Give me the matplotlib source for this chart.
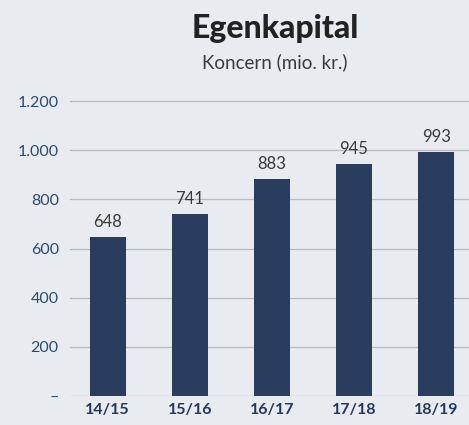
import matplotlib.pyplot as plt

years = ["14/15", "15/16", "16/17", "17/18", "18/19"]
values = [648, 741, 883, 945, 993]
yticks = [0, 200, 400, 600, 800, 1000, 1200]
ytick_labels = ["–", "200", "400", "600", "800", "1.000", "1.200"]

bg = "#e8ecf0"
plt.rcParams["font.family"] = ["Lato", "DejaVu Sans"]

fig = plt.figure(figsize=(4.69, 4.25), dpi=100, facecolor=bg)
ax = fig.add_axes([0.149, 0.068, 0.851, 0.723], facecolor=bg)

x = list(range(len(years)))
ax.bar(x, values, width=0.44, color="#2b3d5e", zorder=3)

for xi, v in zip(x, values):
    ax.text(xi, v + 28, str(v), ha="center", va="bottom", fontsize=12, color="#3a3a3a")

ax.set_xlim(-0.46, 4.40)
ax.set_ylim(0, 1250)
ax.set_yticks(yticks)
ax.set_yticklabels(ytick_labels, fontsize=11.5, color="#2a4a6e")
ax.set_xticks(x)
ax.set_xticklabels(years, fontsize=11.5, color="#26385a", fontweight="bold")
ax.tick_params(length=0, pad=5)
ax.tick_params(axis="y", pad=8)
for v in yticks:
    ax.axhline(v, color="#b8bcc2", lw=0.9, zorder=1)
for s in ax.spines.values():
    s.set_visible(False)

fig.text(0.586, 0.932, "Egenkapital", ha="center", va="center", fontsize=23,
         fontweight="black", color="#222222")
fig.text(0.586, 0.854, "Koncern (mio. kr.)", ha="center", va="center", fontsize=13.5,
         color="#3a3a3a")

fig.savefig("out.png", dpi=100, facecolor=bg)
